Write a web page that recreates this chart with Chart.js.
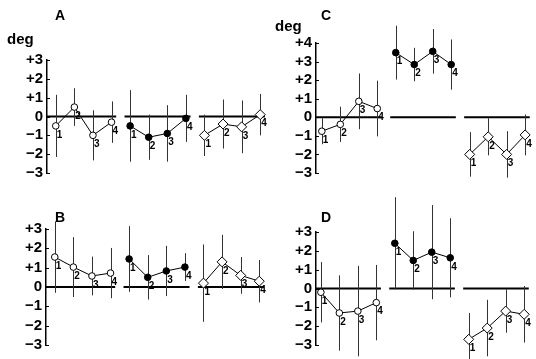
<!DOCTYPE html>
<html><head><meta charset="utf-8">
<script src="https://cdn.jsdelivr.net/npm/chart.js@4/dist/chart.umd.min.js"></script>
<style>
html,body{margin:0;padding:0;background:#fff;}
#wrap{position:relative;width:536px;height:359px;overflow:hidden;background:#fff;}
canvas{position:absolute;}
.t{position:absolute;font-family:"Liberation Sans",Arial,sans-serif;font-weight:bold;font-size:14px;line-height:14px;color:#000;white-space:nowrap;}
.deg{font-size:15px;line-height:15px;}
</style></head><body>
<div id="wrap">
<canvas id="cA" width="275" height="190" style="left:0px;top:0px"></canvas>
<canvas id="cB" width="275" height="169" style="left:0px;top:190px"></canvas>
<canvas id="cC" width="268" height="190" style="left:268px;top:0px"></canvas>
<canvas id="cD" width="268" height="169" style="left:268px;top:190px"></canvas>
<div class="t" style="left:55px;top:8px">A</div>
<div class="t deg" style="left:7px;top:31px">deg</div>
<div class="t" style="left:55px;top:210px">B</div>
<div class="t" style="left:321px;top:8px">C</div>
<div class="t deg" style="left:275px;top:18px">deg</div>
<div class="t" style="left:321px;top:210px">D</div>
</div>
<script>
// ---- data ----
const pointLabels = ['1', '2', '3', '4'];
const ticksStd = [3, 2, 1, 0, -1, -2, -3];
const ticksC = [4, 3, 2, 1, 0, -1, -2, -3];

const A_open = [-0.5, 0.5, -1.0, -0.3];
const A_openErr = [1.65, 1.0, 1.33, 1.1];
const A_filled = [-0.5, -1.1, -0.9, -0.1];
const A_filledErr = [1.9, 1.2, 1.5, 1.25];
const A_diamond = [-1.0, -0.4, -0.55, 0.1];
const A_diamondErr = [1.1, 1.3, 1.4, 1.1];

const B_open = [1.55, 1.03, 0.57, 0.72];
const B_openErr = [1.85, 1.55, 1.0, 1.3];
const B_filled = [1.45, 0.5, 0.83, 1.03];
const B_filledErr = [1.7, 1.15, 1.3, 0.72];
const B_diamond = [0.2, 1.3, 0.6, 0.3];
const B_diamondErr = [2.0, 1.4, 0.95, 1.1];

const C_open = [-0.75, -0.38, 0.86, 0.47];
const C_openErr = [0.7, 0.95, 1.5, 1.5];
const C_filled = [3.48, 2.84, 3.55, 2.84];
const C_filledErr = [1.45, 0.9, 1.2, 1.35];
const C_diamond = [-2.0, -1.05, -2.0, -0.95];
const C_diamondErr = [1.2, 1.0, 1.25, 1.1];

const D_open = [-0.2, -1.3, -1.2, -0.75];
const D_openErr = [1.6, 2.0, 2.4, 2.0];
const D_filled = [2.4, 1.49, 1.93, 1.63];
const D_filledErr = [2.45, 1.55, 2.5, 2.1];
const D_diamond = [-2.7, -2.1, -1.2, -1.37];
const D_diamondErr = [1.4, 1.5, 1.15, 1.5];

// ---- drawing ----
const FONT = '"Liberation Sans", Arial, sans-serif';
const styles = [
  {pointStyle: 'circle', pointRadius: 3.3, pointBackgroundColor: '#fff'},
  {pointStyle: 'circle', pointRadius: 3.3, pointBackgroundColor: '#000'},
  {pointStyle: 'rectRot', pointRadius: 5, pointBackgroundColor: '#fff'}
];

const figPlugin = {
  id: 'fig',
  beforeDatasetsDraw(chart) {
    const {ctx, chartArea: ca} = chart;
    const xs = chart.scales.x, ys = chart.scales.y;
    ctx.save();
    ctx.strokeStyle = '#000';
    ctx.lineWidth = 2;
    const y0 = ys.getPixelForValue(0);
    for (let g = 0; g < 3; g++) {
      const x1 = g === 0 ? ca.left : xs.getPixelForValue(4 * g + 1 - 0.3);
      const x2 = xs.getPixelForValue(4 * g + 4 + 0.25);
      ctx.beginPath(); ctx.moveTo(x1, y0); ctx.lineTo(x2, y0); ctx.stroke();
    }
    ctx.strokeStyle = '#333';
    ctx.lineWidth = 1;
    chart.data.datasets.forEach(ds => {
      ds.data.forEach((p, i) => {
        const e = ds.err[i];
        const x = Math.round(xs.getPixelForValue(p.x)) + 0.5;
        ctx.beginPath();
        ctx.moveTo(x, ys.getPixelForValue(p.y + e));
        ctx.lineTo(x, ys.getPixelForValue(p.y - e));
        ctx.stroke();
      });
    });
    ctx.restore();
  },
  afterDatasetsDraw(chart) {
    const {ctx} = chart;
    ctx.save();
    ctx.fillStyle = '#000';
    ctx.font = 'bold 10px ' + FONT;
    ctx.textBaseline = 'top';
    ctx.textAlign = 'left';
    chart.data.datasets.forEach((ds, di) => {
      const meta = chart.getDatasetMeta(di);
      meta.data.forEach((el, i) => {
        ctx.fillText(pointLabels[i], el.x + 1, el.y + 4);
      });
    });
    ctx.restore();
  },
  afterDraw(chart) {
    const {ctx, chartArea: ca} = chart;
    const ys = chart.scales.y;
    ctx.save();
    ctx.strokeStyle = '#000';
    ctx.lineWidth = 1;
    ys.ticks.forEach(t => {
      const y = Math.round(ys.getPixelForValue(t.value)) + 0.5;
      ctx.beginPath(); ctx.moveTo(ca.left, y); ctx.lineTo(ca.left + 3, y); ctx.stroke();
    });
    ctx.restore();
  }
};

function fmt(v) { return v > 0 ? '+' + v : (v < 0 ? '\u2212' + (-v) : '0'); }

function makePanel(id, L, T, W, H, axisX, topY, botY, p1x, step, ticks, groups) {
  const axisW = axisX - L;
  const xMin = 1 - (p1x - axisX) / step;
  const xMax = xMin + (L + W - axisX) / step;
  const datasets = groups.map((gr, g) => Object.assign({
    data: gr.values.map((v, i) => ({x: 4 * g + i + 1, y: v})),
    err: gr.err,
    showLine: true,
    borderColor: '#000',
    borderWidth: 1,
    pointBorderColor: '#000',
    pointBorderWidth: 1,
    tension: 0,
    clip: false
  }, styles[g]));
  new Chart(document.getElementById(id), {
    type: 'scatter',
    data: {datasets},
    options: {
      responsive: false,
      animation: false,
      devicePixelRatio: 1,
      layout: {padding: {top: topY - T, bottom: T + H - botY, left: 0, right: 0}},
      plugins: {legend: {display: false}, tooltip: {enabled: false}},
      scales: {
        x: {type: 'linear', display: false, min: xMin, max: xMax},
        y: {
          type: 'linear',
          min: Math.min(...ticks), max: Math.max(...ticks),
          afterBuildTicks: s => { s.ticks = ticks.map(v => ({value: v})); },
          afterFit: s => { s.width = axisW; },
          grid: {drawOnChartArea: false, drawTicks: false},
          border: {display: true, color: '#000', width: 1.5},
          ticks: {
            autoSkip: false,
            callback: v => fmt(v),
            color: '#000',
            padding: 4,
            font: {family: FONT, size: 15, weight: 'bold'}
          }
        }
      }
    },
    plugins: [figPlugin]
  });
}

makePanel('cA', 0, 0, 275, 190, 47, 60, 173, 56, 19.09, ticksStd, [
  {values: A_open, err: A_openErr},
  {values: A_filled, err: A_filledErr},
  {values: A_diamond, err: A_diamondErr}
]);
makePanel('cB', 0, 190, 275, 169, 46, 229, 345, 55, 19.09, ticksStd, [
  {values: B_open, err: B_openErr},
  {values: B_filled, err: B_filledErr},
  {values: B_diamond, err: B_diamondErr}
]);
makePanel('cC', 268, 0, 268, 190, 316, 43, 173, 322, 19.0, ticksC, [
  {values: C_open, err: C_openErr},
  {values: C_filled, err: C_filledErr},
  {values: C_diamond, err: C_diamondErr}
]);
makePanel('cD', 268, 190, 268, 169, 316, 232, 345, 321, 19.0, ticksStd, [
  {values: D_open, err: D_openErr},
  {values: D_filled, err: D_filledErr},
  {values: D_diamond, err: D_diamondErr}
]);
</script>
</body></html>
